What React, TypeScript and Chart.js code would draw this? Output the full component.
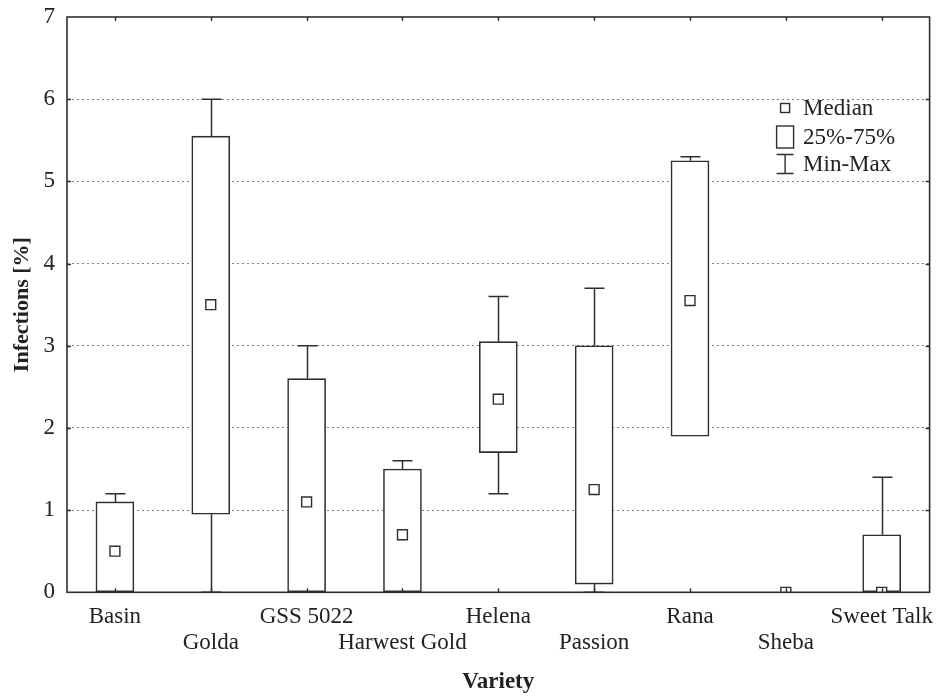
import React, { useEffect, useRef } from "react";
import { Chart, registerables } from "chart.js";

Chart.register(...registerables);

const categories = ["Basin", "Golda", "GSS 5022", "Harwest Gold", "Helena", "Passion", "Rana", "Sheba", "Sweet Talk"];
const minValues = [0, 0, 0, 0, 1.2, 0, 1.9, 0, 0];
const q1Values = [0, 0.95, 0, 0, 1.7, 0.1, 1.9, 0, 0];
const medianValues = [0.5, 3.5, 1.1, 0.7, 2.35, 1.25, 3.55, 0, 0];
const q3Values = [1.1, 5.55, 2.6, 1.5, 3.05, 3.0, 5.25, 0, 0.7];
const maxValues = [1.2, 6.0, 3.0, 1.6, 3.6, 3.7, 5.3, 0, 1.4];
const yMin = 0;
const yMax = 7;
const yStep = 1;
const legendLabels = ["Median", "25%-75%", "Min-Max"];
const xTitle = "Variety";
const yTitle = "Infections [%]";

const FONT = "'Liberation Serif', 'Times New Roman', serif";
const INK = "#2e2e2e";
const W = 941;
const H = 698;

const extrasPlugin = {
  id: "boxExtras",
  afterDatasetsDraw(chart: any) {
    const { ctx, chartArea: ca, scales } = chart;
    const x = scales.x;
    const y = scales.y;
    const capHalf = 10;
    ctx.save();
    ctx.strokeStyle = INK;
    ctx.lineWidth = 1.5;
    ctx.beginPath();
    ctx.rect(ca.left, ca.top, ca.right - ca.left, ca.bottom - ca.top);
    ctx.clip();
    categories.forEach((_, i) => {
      const px = Math.round(x.getPixelForValue(i)) + 0.5;
      const yq1 = y.getPixelForValue(q1Values[i]);
      const yq3 = y.getPixelForValue(q3Values[i]);
      const ymx = y.getPixelForValue(maxValues[i]);
      const ymn = y.getPixelForValue(minValues[i]);
      ctx.beginPath();
      if (maxValues[i] > q3Values[i]) {
        ctx.moveTo(px, yq3);
        ctx.lineTo(px, ymx);
        ctx.moveTo(px - capHalf, ymx);
        ctx.lineTo(px + capHalf, ymx);
      }
      if (minValues[i] < q1Values[i]) {
        ctx.moveTo(px, yq1);
        ctx.lineTo(px, ymn);
        ctx.moveTo(px - capHalf, ymn);
        ctx.lineTo(px + capHalf, ymn);
      }
      ctx.stroke();
    });
    ctx.restore();
  },
  afterDraw(chart: any) {
    const { ctx, chartArea: ca, scales } = chart;
    const x = scales.x;
    const y = scales.y;
    ctx.save();
    ctx.strokeStyle = INK;
    ctx.lineWidth = 1.6;
    ctx.strokeRect(ca.left, ca.top, ca.right - ca.left, ca.bottom - ca.top);
    // inward tick marks
    ctx.lineWidth = 1.4;
    ctx.beginPath();
    const tl = 4;
    categories.forEach((_, i) => {
      const px = Math.round(x.getPixelForValue(i)) + 0.5;
      ctx.moveTo(px, ca.bottom);
      ctx.lineTo(px, ca.bottom - tl);
      ctx.moveTo(px, ca.top);
      ctx.lineTo(px, ca.top + tl);
    });
    for (let v = yMin + yStep; v < yMax; v += yStep) {
      const py = Math.round(y.getPixelForValue(v)) + 0.5;
      ctx.moveTo(ca.left, py);
      ctx.lineTo(ca.left + tl, py);
      ctx.moveTo(ca.right, py);
      ctx.lineTo(ca.right - tl, py);
    }
    ctx.stroke();

    // legend
    const lx = ca.right - 153;
    const tx = ca.right - 126.5;
    const rows = [108, 137, 164];
    ctx.fillStyle = "#ffffff";
    ctx.lineWidth = 1.4;
    // median marker
    ctx.fillRect(lx + 4, rows[0] - 4.5, 9, 9);
    ctx.strokeRect(lx + 4, rows[0] - 4.5, 9, 9);
    // box marker
    ctx.fillRect(lx, rows[1] - 11, 17, 22);
    ctx.strokeRect(lx, rows[1] - 11, 17, 22);
    // whisker marker
    ctx.beginPath();
    ctx.moveTo(lx + 8.5, rows[2] - 9.5);
    ctx.lineTo(lx + 8.5, rows[2] + 9.5);
    ctx.moveTo(lx, rows[2] - 9.5);
    ctx.lineTo(lx + 17, rows[2] - 9.5);
    ctx.moveTo(lx, rows[2] + 9.5);
    ctx.lineTo(lx + 17, rows[2] + 9.5);
    ctx.stroke();
    ctx.fillStyle = "#222222";
    ctx.font = `23px ${FONT}`;
    ctx.textAlign = "left";
    ctx.textBaseline = "middle";
    legendLabels.forEach((t, i) => ctx.fillText(t, tx, rows[i] + 1));
    ctx.restore();
  },
};

export default function App() {
  const ref = useRef<HTMLCanvasElement | null>(null);
  useEffect(() => {
    if (!ref.current) return;
    const labels = categories.map((c, i) => (i % 2 === 0 ? [c, ""] : ["", c]));
    const chart = new Chart(ref.current, {
      type: "bar",
      data: {
        labels,
        datasets: [
          {
            type: "line",
            label: "Median",
            data: medianValues,
            showLine: false,
            pointStyle: "rect",
            pointRadius: 7,
            pointBorderWidth: 1.4,
            pointBackgroundColor: "#ffffff",
            pointBorderColor: INK,
            borderColor: INK,
            backgroundColor: "#ffffff",
            clip: 0,
            order: 0,
          } as any,
          {
            type: "bar",
            label: "25%-75%",
            data: categories.map((_, i) => [q1Values[i], q3Values[i]]),
            backgroundColor: "#ffffff",
            borderColor: INK,
            borderWidth: 1.6,
            borderSkipped: false,
            barThickness: 38,
            order: 1,
          } as any,
        ],
      },
      options: {
        responsive: false,
        animation: false,
        events: [],
        layout: { padding: { top: 17, right: 11.4, left: 0, bottom: 0 } },
        plugins: { legend: { display: false }, tooltip: { enabled: false } },
        scales: {
          x: {
            type: "category",
            offset: true,
            grid: {
              display: true,
              drawOnChartArea: false,
              drawTicks: true,
              tickLength: 11.2,
              tickColor: "rgba(0,0,0,0)",
              color: "rgba(0,0,0,0)",
            },
            border: { display: false },
            ticks: {
              autoSkip: false,
              maxRotation: 0,
              minRotation: 0,
              padding: 0,
              color: "#222222",
              font: { family: FONT, size: 23, lineHeight: 1.145 },
            },
            title: {
              display: true,
              text: xTitle,
              color: "#222222",
              font: { family: FONT, size: 23, weight: "bold", lineHeight: 1.2 },
              padding: { top: 0, bottom: 2.2 },
            },
            afterFit: (scale: any) => {
              scale.height = 105.7;
            },
          },
          y: {
            min: yMin,
            max: yMax,
            ticks: {
              stepSize: yStep,
              padding: 0,
              color: "#222222",
              font: { family: FONT, size: 23 },
            },
            grid: {
              drawTicks: true,
              tickLength: 12,
              tickColor: "rgba(0,0,0,0)",
              lineWidth: 1,
              color: (c: any) =>
                c.tick && (c.tick.value === yMin || c.tick.value === yMax) ? "rgba(0,0,0,0)" : "#808080",
            },
            border: { display: false, dash: [2, 3] },
            title: {
              display: true,
              text: yTitle,
              color: "#222222",
              font: { family: FONT, size: 22, weight: "bold", lineHeight: 1.2 },
              padding: { top: 8.8, bottom: 0 },
            },
            afterFit: (scale: any) => {
              scale.width = 67;
            },
          },
        },
      },
      plugins: [extrasPlugin],
    });
    return () => chart.destroy();
  }, []);

  return (
    <div style={{ position: "absolute", left: 0, top: 0, width: W, height: H, background: "#ffffff" }}>
      <canvas ref={ref} width={W} height={H} style={{ width: W, height: H, display: "block" }} />
    </div>
  );
}
